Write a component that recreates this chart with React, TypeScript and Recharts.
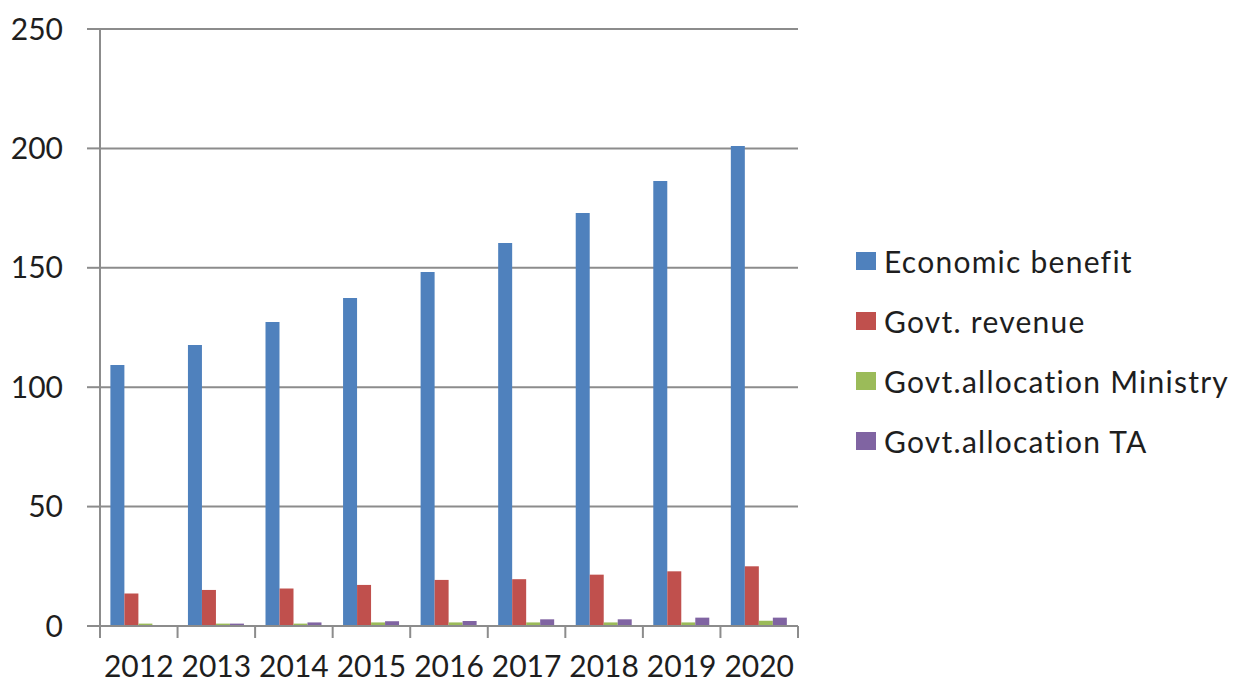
import { BarChart, Bar, XAxis, YAxis, CartesianGrid } from 'recharts';

const YEARS = ['2012', '2013', '2014', '2015', '2016', '2017', '2018', '2019', '2020'];
const ECONOMIC_BENEFIT = [109.3, 117.7, 127.3, 137.4, 148.2, 160.4, 172.9, 186.4, 201];
const GOVT_REVENUE = [13.6, 15.1, 15.7, 17.2, 19.3, 19.6, 21.5, 22.9, 25];
const ALLOC_MINISTRY = [1, 1, 1, 1.5, 1.5, 1.5, 1.5, 1.5, 2.2];
const ALLOC_TA = [0, 1, 1.5, 2, 2.1, 2.8, 2.8, 3.5, 3.5];
const Y_TICKS = [0, 50, 100, 150, 200, 250];

const SERIES = [
  { key: 'economic', name: 'Economic benefit', color: '#4F81BD' },
  { key: 'revenue', name: 'Govt. revenue', color: '#C0504D' },
  { key: 'ministry', name: 'Govt.allocation Ministry', color: '#9BBB59' },
  { key: 'ta', name: 'Govt.allocation TA', color: '#8064A2' },
];

const FONT = 'Lato, "DejaVu Sans", sans-serif';
const AXIS = '#8c8c8c';
const TEXT = '#1e1e1e';

const data = YEARS.map((year, i) => ({
  year,
  economic: ECONOMIC_BENEFIT[i],
  revenue: GOVT_REVENUE[i],
  ministry: ALLOC_MINISTRY[i],
  ta: ALLOC_TA[i],
}));

// labels centred under each group, tick marks on the group boundaries
function YearTick(props: any) {
  const { x, y, payload, index } = props;
  const half = payload.offset ?? 38.8;
  const axisY = y - 8; // default tickSize 6 + tickMargin 2
  const last = index === YEARS.length - 1;
  return (
    <g>
      <line x1={x - half} y1={axisY} x2={x - half} y2={axisY + 12} stroke={AXIS} strokeWidth={2} />
      {last && <line x1={x + half} y1={axisY} x2={x + half} y2={axisY + 12} stroke={AXIS} strokeWidth={2} />}
      <text x={x} y={axisY + 51} textAnchor="middle" fontSize={30} fontFamily={FONT} fill={TEXT}>
        {payload.value}
      </text>
    </g>
  );
}

function ChartLegend() {
  return (
    <div style={{ position: 'absolute', left: 856, top: 231, fontFamily: FONT, fontSize: 30, color: TEXT, letterSpacing: 1.25 }}>
      {SERIES.map((s) => (
        <div key={s.key} style={{ display: 'flex', alignItems: 'center', height: 60 }}>
          <span style={{ display: 'inline-block', width: 20, height: 18, background: s.color, marginRight: 8 }} />
          <span style={{ whiteSpace: 'nowrap' }}>{s.name}</span>
        </div>
      ))}
    </div>
  );
}

export default function App() {
  return (
    <div style={{ position: 'absolute', left: 0, top: 0, width: 1240, height: 682, background: '#fff' }}>
      <BarChart
        width={1240}
        height={682}
        data={data}
        margin={{ top: 29, right: 442, bottom: 0, left: 0 }}
        barCategoryGap="13.4%"
        barGap={0}
      >
        <CartesianGrid vertical={false} stroke={AXIS} strokeWidth={2} />
        <XAxis
          dataKey="year"
          tick={<YearTick />}
          tickLine={false}
          axisLine={{ stroke: AXIS, strokeWidth: 2 }}
          interval={0}
          height={56}
        />
        <YAxis
          domain={[0, 250]}
          ticks={Y_TICKS}
          width={100}
          tickSize={13}
          tickMargin={24}
          tickLine={{ stroke: AXIS, strokeWidth: 2 }}
          axisLine={{ stroke: AXIS, strokeWidth: 2 }}
          tick={{ fontSize: 30, fontFamily: FONT, fill: TEXT }}
        />
        {SERIES.map((s) => (
          <Bar key={s.key} dataKey={s.key} name={s.name} fill={s.color} isAnimationActive={false} />
        ))}
      </BarChart>
      <ChartLegend />
    </div>
  );
}
